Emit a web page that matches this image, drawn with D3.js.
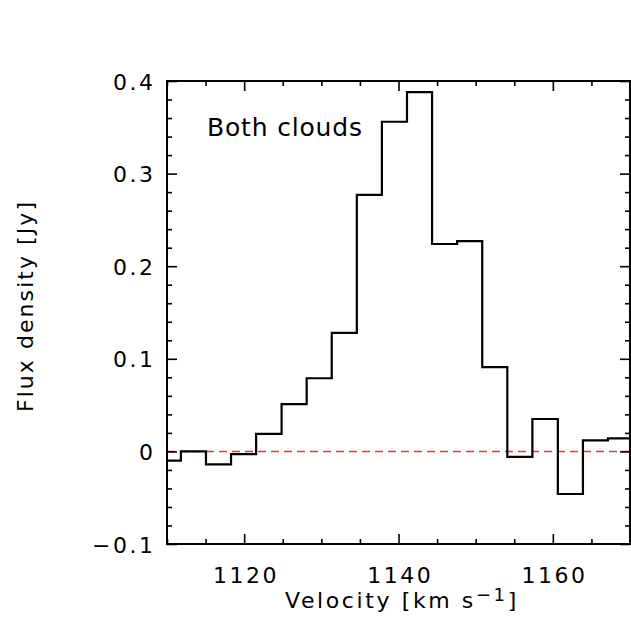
<!DOCTYPE html>
<html>
<head>
<meta charset="utf-8">
<script src="https://cdn.jsdelivr.net/npm/d3@7"></script>
<style>
  html, body { margin: 0; padding: 0; background: #fff; }
  svg { display: block; }
  text { font-family: "DejaVu Sans", "Liberation Sans", sans-serif; fill: #000; }
</style>
</head>
<body>
<div id="chart"></div>
<script>
// ---- data ----
const velocity = [1110.2, 1113.4, 1116.7, 1119.9, 1123.2, 1126.5, 1129.7, 1133.0, 1136.2, 1139.5,
                  1142.7, 1146.0, 1149.2, 1152.5, 1155.7, 1159.0, 1162.3, 1165.5, 1168.8];
const flux = [-0.010, 0.000, -0.014, -0.003, 0.019, 0.051, 0.079, 0.128, 0.277, 0.356,
              0.388, 0.224, 0.227, 0.091, -0.006, 0.035, -0.046, 0.012, 0.014];
const xMajorTicks = [1120, 1140, 1160];
const xMinorTicks = [1110, 1115, 1125, 1130, 1135, 1145, 1150, 1155, 1165, 1170];
const yMajorTicks = [-0.1, 0, 0.1, 0.2, 0.3, 0.4];
const yTickLabels = ["\u22120.1", "0", "0.1", "0.2", "0.3", "0.4"];
const yMinorTicks = d3.range(-10, 41, 2).map(d => d / 100).filter(d => Math.round(d * 100) % 10 !== 0);
const panelLabel = "Both clouds";
const xTitle = "Velocity [km s";
const xTitleSup = "\u22121";
const yTitle = "Flux density [Jy]";

// ---- layout ----
const W = 631, H = 622;
const m = { left: 167, top: 81, right: 1, bottom: 78 };
const iw = W - m.left - m.right, ih = H - m.top - m.bottom;

const svg = d3.select("#chart").append("svg").attr("width", W).attr("height", H);
const g = svg.append("g").attr("transform", `translate(${m.left},${m.top})`);

const x = d3.scaleLinear().domain([1110, 1170]).range([0, iw]);
const y = d3.scaleLinear().domain([-0.1, 0.4]).range([ih, 0]);

g.append("clipPath").attr("id", "clip").append("rect").attr("width", iw).attr("height", ih);

// zero reference line
const y0 = Math.round(y(0)) + 0.5;
g.append("line")
  .attr("x1", 0).attr("x2", iw).attr("y1", y0).attr("y2", y0)
  .attr("stroke", "#ee3333").attr("stroke-width", 1.3).attr("stroke-dasharray", "8,5");

// histogram steps
const edges = velocity.map((v, i) => i === 0 ? v - (velocity[1] - velocity[0]) / 2 : (velocity[i - 1] + v) / 2);
const lastEdge = velocity[velocity.length - 1] + (velocity[velocity.length - 1] - velocity[velocity.length - 2]) / 2;
const pts = edges.map((e, i) => [e, flux[i]]);
pts.push([lastEdge, flux[flux.length - 1]]);
g.append("path")
  .attr("clip-path", "url(#clip)")
  .attr("d", d3.line().x(d => x(d[0])).y(d => y(d[1])).curve(d3.curveStepAfter)(pts))
  .attr("fill", "none").attr("stroke", "#000").attr("stroke-width", 2.2);

// axes (ticks inward on all sides)
const fontSize = 22, ls = 2.5;
function styleAxis(sel) {
  sel.select(".domain").remove();
  sel.selectAll(".tick line").attr("stroke", "#000").attr("stroke-width", 1.6);
}
const xb = g.append("g").attr("transform", `translate(0,${ih})`)
  .call(d3.axisBottom(x).tickValues(xMajorTicks).tickSize(-10).tickPadding(16).tickFormat(d3.format("d")));
styleAxis(xb);
xb.selectAll("text").attr("font-size", fontSize).style("letter-spacing", ls + "px")
  .attr("dx", ls / 2).attr("dy", 0).attr("y", 38.5);
g.append("g").attr("transform", `translate(0,${ih})`)
  .call(d3.axisBottom(x).tickValues(xMinorTicks).tickSize(-5).tickFormat("")).call(styleAxis);
g.append("g").call(d3.axisTop(x).tickValues(xMajorTicks).tickSize(-10).tickFormat("")).call(styleAxis);
g.append("g").call(d3.axisTop(x).tickValues(xMinorTicks).tickSize(-5).tickFormat("")).call(styleAxis);

const yl = g.append("g")
  .call(d3.axisLeft(y).tickValues(yMajorTicks).tickSize(-10).tickPadding(14)
    .tickFormat((d, i) => yTickLabels[i]));
styleAxis(yl);
yl.selectAll("text").attr("font-size", fontSize).style("letter-spacing", ls + "px")
  .attr("dx", ls).attr("dy", 8);
g.append("g").call(d3.axisLeft(y).tickValues(yMinorTicks).tickSize(-5).tickFormat("")).call(styleAxis);
g.append("g").attr("transform", `translate(${iw},0)`)
  .call(d3.axisRight(y).tickValues(yMajorTicks).tickSize(-10).tickFormat("")).call(styleAxis);
g.append("g").attr("transform", `translate(${iw},0)`)
  .call(d3.axisRight(y).tickValues(yMinorTicks).tickSize(-5).tickFormat("")).call(styleAxis);

// frame
g.append("rect").attr("width", iw).attr("height", ih)
  .attr("fill", "none").attr("stroke", "#000").attr("stroke-width", 2);

// panel label
g.append("text").attr("x", 40).attr("y", 55).attr("font-size", 25)
  .attr("textLength", 155).attr("lengthAdjust", "spacing").text(panelLabel);

// x title
const xt = svg.append("text").attr("x", 285).attr("y", 608).attr("font-size", fontSize)
  .style("letter-spacing", "2.6px");
xt.append("tspan").text(xTitle);
xt.append("tspan").attr("dy", -7).attr("font-size", 18).text(xTitleSup);
xt.append("tspan").attr("dy", 7).text("]");

// y title
svg.append("text").attr("transform", "translate(33,412) rotate(-90)")
  .attr("font-size", fontSize).attr("textLength", 210).attr("lengthAdjust", "spacing").text(yTitle);
</script>
</body>
</html>
